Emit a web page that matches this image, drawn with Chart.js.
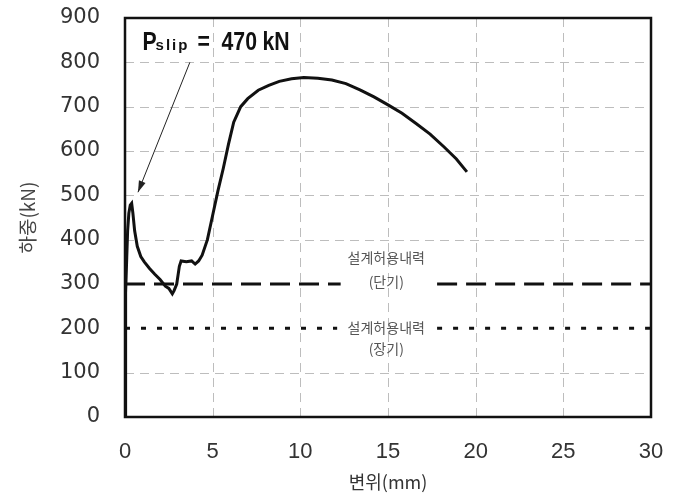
<!DOCTYPE html>
<html>
<head>
<meta charset="utf-8">
<script src="https://cdn.jsdelivr.net/npm/chart.js@4.4.1/dist/chart.umd.min.js"></script>
<style>
  html, body { margin: 0; padding: 0; background: #fff; }
  #wrap { width: 676px; height: 497px; }
</style>
</head>
<body>
<div id="wrap"><canvas id="chart"></canvas></div>
<script>
// 하중-변위 곡선
const disp = [0, 0.02, 0.05, 0.1, 0.15, 0.22, 0.3, 0.38, 0.45, 0.55, 0.7, 0.9, 1.1, 1.4, 1.7, 2.0, 2.3, 2.5, 2.7, 2.8, 2.95, 3.1, 3.2, 3.5, 3.8, 4.0, 4.2, 4.4, 4.7, 5.0, 5.3, 5.6, 5.9, 6.2, 6.6, 7.0, 7.6, 8.2, 8.8, 9.5, 10.2, 11.0, 11.8, 12.6, 13.4, 14.2, 15.0, 15.8, 16.6, 17.4, 18.2, 18.9, 19.5]
const load = [0, 150, 280, 360, 420, 460, 478, 482, 460, 420, 385, 362, 350, 335, 322, 310, 295, 290, 278, 285, 300, 340, 352, 350, 352, 345, 352, 365, 400, 455, 510, 560, 615, 665, 700, 718, 737, 748, 757, 763, 766, 764, 760, 752, 738, 722, 704, 685, 662, 638, 609, 582, 553]

// 설계허용내력 lines (x where the line stops / starts again around the text)
const shortTermLoad = 300
const longTermLoad = 200
const shortTermX = [0, 12.3, 17.8, 30]
const longTermX = [0, 12.1, 17.8, 30]

const xTicks = [0, 5, 10, 15, 20, 25, 30]
const yTicks = [0, 100, 200, 300, 400, 500, 600, 700, 800, 900]

// annotation anchors in data units
const slipLabel = { x: 1.0, y: 828 }
const slipArrow = { fromX: 3.7, fromY: 800, toX: 0.74, toY: 507 }
const shortLabel = { x: 14.9, y1: 359, y2: 305, text1: '설계허용내력', text2: '(단기)' }
const longLabel = { x: 14.9, y1: 201, y2: 153, text1: '설계허용내력', text2: '(장기)' }

const curve = disp.map((d, i) => ({ x: d, y: load[i] }))
const lineWithGap = (xs, v) => [
  { x: xs[0], y: v }, { x: xs[1], y: v }, { x: (xs[1] + xs[2]) / 2, y: null },
  { x: xs[2], y: v }, { x: xs[3], y: v },
]

// dashed grey grid, drawn at the scales' own ticks
const dashedGrid = {
  id: 'dashedGrid',
  beforeDatasetsDraw(chart) {
    const ctx = chart.ctx
    const a = chart.chartArea
    const xs = chart.scales.x
    const ys = chart.scales.y
    ctx.save()
    ctx.strokeStyle = '#bdbdbd'
    ctx.lineWidth = 1
    ctx.setLineDash([9, 6])
    xs.ticks.forEach((t) => {
      if (t.value <= xs.min || t.value >= xs.max) return
      const x = Math.round(xs.getPixelForValue(t.value)) + 0.5
      ctx.beginPath()
      ctx.moveTo(x, a.bottom)
      ctx.lineTo(x, a.top)
      ctx.stroke()
    })
    ys.ticks.forEach((t) => {
      if (t.value <= ys.min || t.value >= ys.max) return
      if (t.value === shortTermLoad || t.value === longTermLoad) return
      const y = Math.round(ys.getPixelForValue(t.value)) + 0.5
      ctx.beginPath()
      ctx.moveTo(a.left, y)
      ctx.lineTo(a.right, y)
      ctx.stroke()
    })
    ctx.restore()
  },
}

const annotations = {
  id: 'annotations',
  afterDraw(chart) {
    const ctx = chart.ctx
    const xs = chart.scales.x
    const ys = chart.scales.y
    const a = chart.chartArea

    // plot frame
    ctx.save()
    ctx.strokeStyle = '#111'
    ctx.lineWidth = 2.5
    ctx.strokeRect(a.left, a.top, a.right - a.left, a.bottom - a.top)
    ctx.restore()

    // P_slip label (condensed bold)
    const px = xs.getPixelForValue(slipLabel.x)
    const py = ys.getPixelForValue(slipLabel.y)
    const narrow = (text, x, size) => {
      ctx.save()
      ctx.translate(x, py)
      ctx.scale(0.85, 1)
      ctx.font = 'bold ' + size + 'px "Liberation Sans", Arial, sans-serif'
      ctx.fillText(text, 0, 0)
      ctx.restore()
    }
    ctx.save()
    ctx.fillStyle = '#111'
    ctx.textBaseline = 'alphabetic'
    narrow('P', px, 25)
    ctx.font = 'bold 15px "Liberation Sans", Arial, sans-serif'
    ctx.letterSpacing = '2px'
    ctx.fillText('slip', px + 13, py)
    ctx.letterSpacing = '0px'
    narrow('=', px + 55, 25)
    narrow('470', px + 79, 25)
    narrow('kN', px + 120, 25)

    // arrow
    const x1 = xs.getPixelForValue(slipArrow.fromX)
    const y1 = ys.getPixelForValue(slipArrow.fromY)
    const x2 = xs.getPixelForValue(slipArrow.toX)
    const y2 = ys.getPixelForValue(slipArrow.toY)
    ctx.strokeStyle = '#222'
    ctx.lineWidth = 1
    ctx.beginPath()
    ctx.moveTo(x1, y1)
    ctx.lineTo(x2, y2)
    ctx.stroke()
    const ang = Math.atan2(y2 - y1, x2 - x1)
    ctx.beginPath()
    ctx.moveTo(x2, y2)
    ctx.lineTo(x2 - 12 * Math.cos(ang - 0.3), y2 - 12 * Math.sin(ang - 0.3))
    ctx.lineTo(x2 - 12 * Math.cos(ang + 0.3), y2 - 12 * Math.sin(ang + 0.3))
    ctx.closePath()
    ctx.fillStyle = '#222'
    ctx.fill()

    // 설계허용내력 labels
    ctx.font = '14px "Noto Sans CJK KR", sans-serif'
    ctx.fillStyle = '#555'
    ctx.textAlign = 'center'
    ctx.textBaseline = 'middle'
    ;[shortLabel, longLabel].forEach((l) => {
      const lx = xs.getPixelForValue(l.x)
      ctx.fillText(l.text1, lx, ys.getPixelForValue(l.y1))
      ctx.fillText(l.text2, lx, ys.getPixelForValue(l.y2))
    })
    ctx.restore()
  },
}

const config = {
  type: 'line',
  data: {
    datasets: [
      {
        label: '하중-변위',
        data: curve,
        borderColor: '#111',
        borderWidth: 3,
        pointRadius: 0,
        tension: 0,
      },
      {
        label: '설계허용내력(단기)',
        data: lineWithGap(shortTermX, shortTermLoad),
        borderColor: '#111',
        borderWidth: 3,
        borderDash: [20, 9],
        pointRadius: 0,
        spanGaps: false,
      },
      {
        label: '설계허용내력(장기)',
        data: lineWithGap(longTermX, longTermLoad),
        borderColor: '#111',
        borderWidth: 3,
        borderDash: [5, 11],
        pointRadius: 0,
        spanGaps: false,
      },
    ],
  },
  options: {
    responsive: true,
    maintainAspectRatio: false,
    animation: false,
    layout: { padding: { left: 0, right: 25, top: 18, bottom: 0 } },
    plugins: { legend: { display: false }, tooltip: { enabled: false } },
    scales: {
      x: {
        type: 'linear',
        min: 0,
        max: 30,
        afterBuildTicks: (s) => { s.ticks = xTicks.map((v) => ({ value: v })) },
        afterFit: (s) => {
          s.height = 80
          s.paddingLeft = 0
          s.paddingRight = 0
        },
        grid: { display: false, drawTicks: false },
        border: { display: false },
        ticks: {
          color: '#333',
          font: { family: '"Liberation Sans", Arial, sans-serif', size: 22 },
          padding: 22,
          maxRotation: 0,
        },
        title: {
          display: true,
          text: '변위(mm)',
          color: '#333',
          font: { family: '"Noto Sans CJK KR", sans-serif', size: 18 },
          padding: { top: 0, bottom: 4 },
        },
      },
      y: {
        type: 'linear',
        min: 0,
        max: 900,
        afterBuildTicks: (s) => { s.ticks = yTicks.map((v) => ({ value: v })) },
        afterFit: (s) => {
          s.width = 125
          s.paddingTop = 0
          s.paddingBottom = 0
        },
        grid: { display: false, drawTicks: false },
        border: { display: false },
        ticks: {
          color: '#333',
          font: { family: '"DejaVu Sans", sans-serif', size: 21 },
          padding: 25,
        },
        title: {
          display: true,
          text: '하중(kN)',
          color: '#444',
          font: { family: '"Noto Sans CJK KR", sans-serif', size: 19 },
          padding: { top: 16, bottom: 0 },
        },
      },
    },
  },
  plugins: [dashedGrid, annotations],
}

new Chart(document.querySelector('#chart'), config)
</script>
</body>
</html>
